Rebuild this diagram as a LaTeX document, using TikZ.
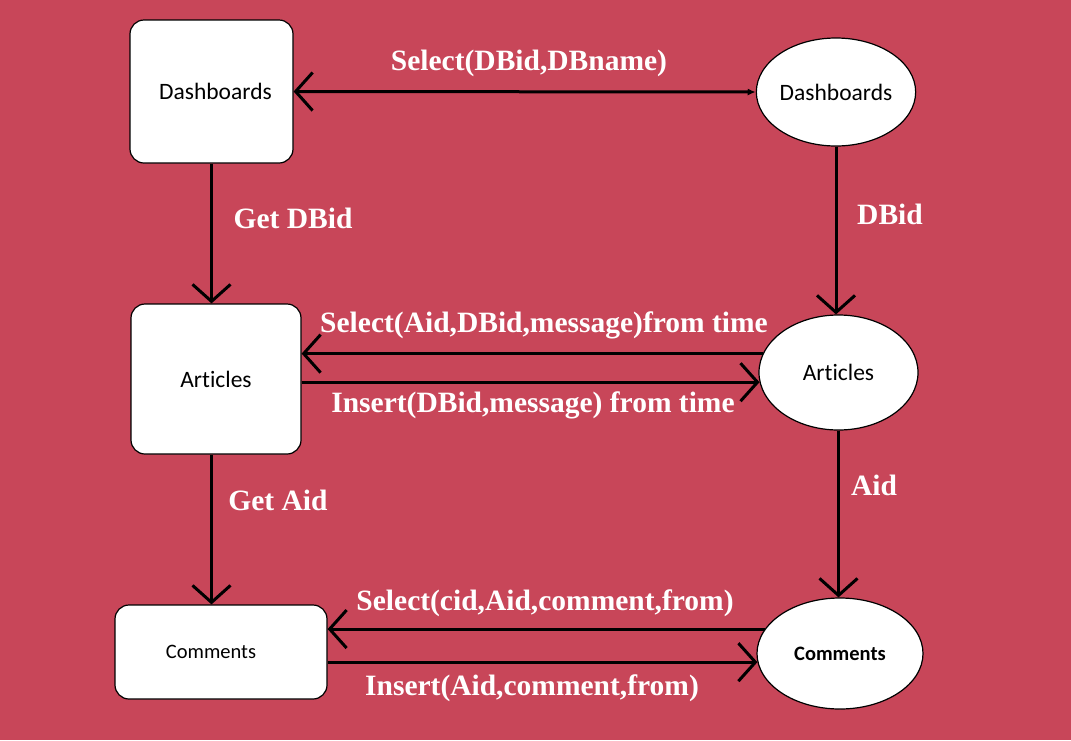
\documentclass[tikz,border=0pt]{standalone}
\usepackage{fontspec}
\usetikzlibrary{arrows.meta,positioning,shapes.geometric,calc}
\newfontfamily\boxfont[Ligatures=NoCommon]{Carlito}
\newfontfamily\lblfont{Liberation Serif}
\definecolor{rosebg}{HTML}{C84659}
\tikzset{
  recbox/.style={draw=black, line width=1.2pt, fill=white, rounded corners=14pt, inner sep=0pt, font=\boxfont\fontsize{23.5}{26}\selectfont},
  ellbox/.style={ellipse, draw=black, line width=1.2pt, fill=white, inner sep=0pt, font=\boxfont\fontsize{23.5}{26}\selectfont},
  smalltext/.style={font=\boxfont\fontsize{20.5}{24}\selectfont},
  boldtext/.style={font=\boxfont\bfseries\fontsize{20.5}{24}\selectfont},
  flow/.style={line width=3pt, draw=black, -{Straight Barb[length=17pt,width=38pt]}},
  lbl/.style={text=white, font=\lblfont\bfseries\fontsize{29.5}{32}\selectfont, inner sep=0pt},
}
\begin{document}
\begin{tikzpicture}[x=1pt,y=-1pt]
\fill[rosebg] (0,0) rectangle (1071,740);
\useasboundingbox (0,0) rectangle (1071,740);
% left column: rounded boxes
\node[recbox, minimum width=163pt, minimum height=143pt] (dashrec) at (211.5,91.5) {\hspace*{8pt}Dashboards};
\node[recbox, minimum width=170pt, minimum height=150pt] (artrec) at (216,379) {Articles};
\node[recbox, smalltext, minimum width=212pt, minimum height=94pt] (comrec) at (221,652) {\hspace*{-20pt}Comments};
% right column: ellipses
\node[ellbox, minimum width=158pt, minimum height=108pt] (dashell) at (836,92) {Dashboards};
\node[ellbox, minimum width=159pt, minimum height=115pt] (artell) at (838.5,372.5) {Articles};
\node[ellbox, boldtext, minimum width=166pt, minimum height=111pt] (comell) at (840,653.5) {Comments};
% connectors
\draw[line width=3pt, {Straight Barb[length=17pt,width=38pt]}-{Latex[length=8pt,width=7pt]}] (dashrec.east) -- (dashell.west);
\draw[flow] (dashrec.south) -- (dashrec.south |- artrec.north);
\draw[flow] (dashell.south) -- (dashell.south |- artell.north);
\draw[flow] (artell.166) -- (artell.166 -| artrec.east);
\draw[flow] (artell.187 -| artrec.east) -- (artell.187);
\draw[flow] (artrec.south -| dashrec.south) -- (comrec.north -| dashrec.south);
\draw[flow] (artell.south) -- (artell.south |- comell.north);
\draw[flow] (comell.162.6) -- (comell.162.6 -| comrec.east);
\draw[flow] (comell.186.6 -| comrec.east) -- (comell.186.6);
% labels
\node[lbl] (lseldash) at (529,63) {Select(DBid,DBname)};
\node[lbl] (lgetdb) at (293,218) {Get DBid};
\node[lbl] (ldbid) at (890,214) {DBid};
\node[lbl] (lselart) at (544,325) {Select(Aid,DBid,message)from time};
\node[lbl] (linsart) at (533,405) {Insert(DBid,message) from time};
\node[lbl] (lgetaid) at (278,500) {Get Aid};
\node[lbl] (laid) at (874,485) {Aid};
\node[lbl] (lselcom) at (545,603) {Select(cid,Aid,comment,from)};
\node[lbl] (linscom) at (532,688) {Insert(Aid,comment,from)};
\end{tikzpicture}
\end{document}
